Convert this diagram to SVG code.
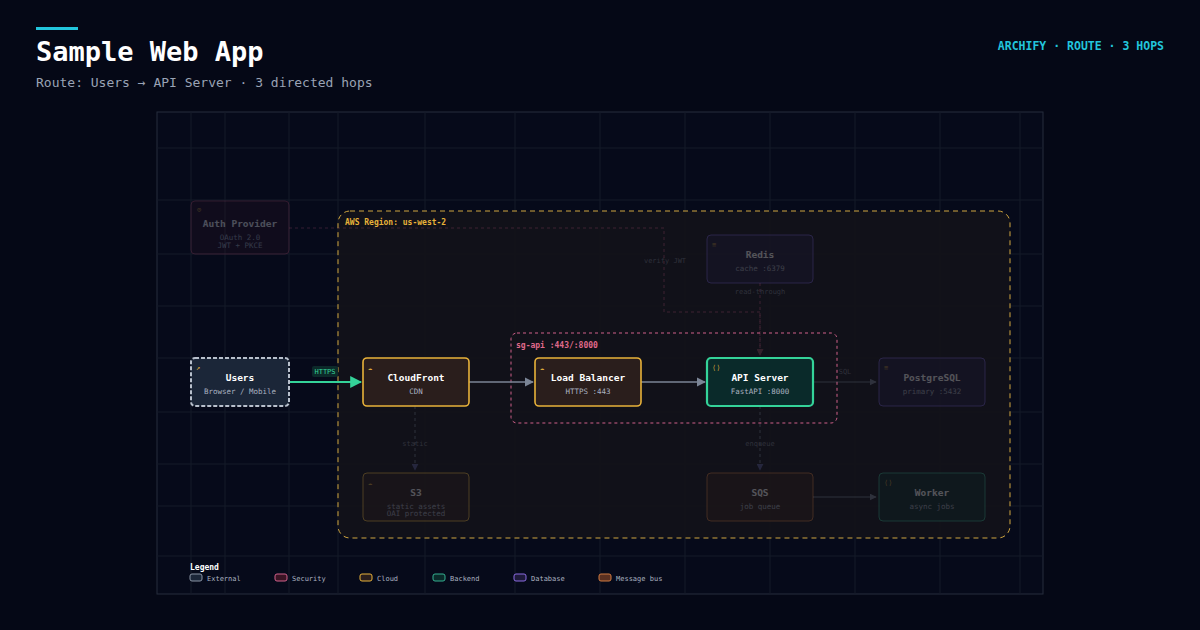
<svg xmlns="http://www.w3.org/2000/svg" width="1200" height="630" viewBox="0 0 1200 630">
<style>
text{font-family:"DejaVu Sans Mono","Liberation Mono",monospace}
.t{font-size:9.5px;font-weight:bold;fill:#fff;text-anchor:middle}
.s{font-size:7.5px;fill:#aab2c0;text-anchor:middle}
.ic{font-size:7px;fill:#d9a83a}
.lbl{font-size:7px;fill:#7a8090;text-anchor:middle}
.faded{opacity:0.28}
.lg{font-size:7px;fill:#aab2c0}
.grid line{stroke:#141a28;stroke-width:1}
</style>
<defs>
<marker id="ag" viewBox="0 0 10 10" refX="9" refY="5" markerWidth="6" markerHeight="6" orient="auto"><path d="M0,0L10,5L0,10z" fill="#34d399"/></marker>
<marker id="ay" viewBox="0 0 10 10" refX="9" refY="5" markerWidth="7" markerHeight="7" orient="auto"><path d="M0,0L10,5L0,10z" fill="#7b8596"/></marker>
<marker id="ab" viewBox="0 0 10 10" refX="9" refY="5" markerWidth="7" markerHeight="7" orient="auto"><path d="M0,0L10,5L0,10z" fill="#5a5f9a"/></marker>
<marker id="ar" viewBox="0 0 10 10" refX="9" refY="5" markerWidth="7" markerHeight="7" orient="auto"><path d="M0,0L10,5L0,10z" fill="#8a4a5a"/></marker>
</defs>
<rect width="1200" height="630" fill="#050816"/>
<rect x="36" y="27" width="42" height="3" fill="#22c5dc"/>
<text x="36" y="61" font-size="27" font-weight="bold" fill="#fff">Sample Web App</text>
<text x="36" y="87" font-size="13" fill="#9aa3b5">Route: Users → API Server · 3 directed hops</text>
<text x="1164" y="50" font-size="11.5" font-weight="bold" fill="#22c5dc" text-anchor="end">ARCHIFY · ROUTE · 3 HOPS</text>
<rect x="157" y="112" width="886" height="482" fill="#060a1a" stroke="#262c3c"/>
<g class="grid">
<line x1="191" y1="112" x2="191" y2="594"/><line x1="225" y1="112" x2="225" y2="594"/><line x1="289" y1="112" x2="289" y2="594"/><line x1="338" y1="112" x2="338" y2="594"/><line x1="425" y1="112" x2="425" y2="594"/><line x1="515" y1="112" x2="515" y2="594"/><line x1="600" y1="112" x2="600" y2="594"/><line x1="685" y1="112" x2="685" y2="594"/><line x1="770" y1="112" x2="770" y2="594"/><line x1="855" y1="112" x2="855" y2="594"/><line x1="940" y1="112" x2="940" y2="594"/><line x1="1020" y1="112" x2="1020" y2="594"/>
<line x1="157" y1="148" x2="1043" y2="148"/><line x1="157" y1="200" x2="1043" y2="200"/><line x1="157" y1="254" x2="1043" y2="254"/><line x1="157" y1="306" x2="1043" y2="306"/><line x1="157" y1="358" x2="1043" y2="358"/><line x1="157" y1="412" x2="1043" y2="412"/><line x1="157" y1="464" x2="1043" y2="464"/><line x1="157" y1="506" x2="1043" y2="506"/><line x1="157" y1="556" x2="1043" y2="556"/>
</g>
<g id="region">
<rect x="338" y="211" width="672" height="327" rx="12" fill="#121219" fill-opacity="0.92" stroke="#d0a640" stroke-dasharray="5 4"/>
<text x="345" y="225" font-size="8" font-weight="bold" fill="#e8b23a">AWS Region: us-west-2</text>
<rect x="511" y="333" width="326" height="90" rx="6" fill="none" stroke="#d0608a" stroke-dasharray="3 3"/>
<text x="516" y="348" font-size="8" font-weight="bold" fill="#e06a8c">sg-api :443/:8000</text>
</g>
<g id="connectors" fill="none">
<g class="faded">
<path d="M289,228H664V312H760V355" stroke="#b05070" stroke-dasharray="3 3" marker-end="url(#ar)"/>
<path d="M760,283V355" stroke="#b05070" stroke-dasharray="3 3" marker-end="url(#ar)"/>
<path d="M813,382H876" stroke="#7b8596" marker-end="url(#ay)"/>
<path d="M415,406V470" stroke="#7b8596" stroke-dasharray="3 3" marker-end="url(#ab)"/>
<path d="M760,406V470" stroke="#7b8596" stroke-dasharray="3 3" marker-end="url(#ab)"/>
<path d="M813,497H876" stroke="#7b8596" marker-end="url(#ay)"/>
</g>
<path d="M289,382H361" stroke="#34d399" stroke-width="2" marker-end="url(#ag)"/>
<path d="M469,382H533" stroke="#7b8596" stroke-width="1.3" marker-end="url(#ay)"/>
<path d="M641,382H705" stroke="#7b8596" stroke-width="1.3" marker-end="url(#ay)"/>
<rect x="312" y="366" width="26" height="11" rx="2" fill="#0c2a2a"/>
<text x="325" y="374" font-size="7" fill="#34d399" text-anchor="middle">HTTPS</text>
<g class="faded">
<text x="665" y="263" class="lbl" fill="#b06080">verify JWT</text>
<text x="760" y="294" class="lbl">read-through</text>
<text x="845" y="374" class="lbl">SQL</text>
<text x="415" y="446" class="lbl">static</text>
<text x="760" y="446" class="lbl">enqueue</text>
</g>
</g>
<g id="auth" class="faded"><rect x="191" y="201" width="98" height="53" rx="4" fill="#2a1422" stroke="#a04060"/><text x="197" y="212" class="ic" fill="#c06080">⊙</text><text x="240" y="227" class="t">Auth Provider</text><text x="240" y="240" class="s">OAuth 2.0</text><text x="240" y="248" class="s" font-size="6">JWT + PKCE</text></g>
<g id="users"><rect x="191" y="358" width="98" height="48" rx="4" fill="#1b2638" stroke="#b8c0cc" stroke-width="2" stroke-dasharray="4 2"/><text x="196" y="370" class="ic" fill="#8a94a4">↗</text><text x="240" y="381" class="t">Users</text><text x="240" y="394" class="s">Browser / Mobile</text></g>
<g id="cloudfront"><rect x="363" y="358" width="106" height="48" rx="4" fill="#2a1e1c" stroke="#e8b23a" stroke-width="1.6"/><text x="368" y="370" class="ic">☁</text><text x="416" y="381" class="t">CloudFront</text><text x="416" y="394" class="s">CDN</text></g>
<g id="lb"><rect x="535" y="358" width="106" height="48" rx="4" fill="#2a1e1c" stroke="#e8b23a" stroke-width="1.6"/><text x="540" y="370" class="ic">☁</text><text x="588" y="381" class="t">Load Balancer</text><text x="588" y="394" class="s">HTTPS :443</text></g>
<g id="api"><rect x="707" y="358" width="106" height="48" rx="4" fill="#0a2a2a" stroke="#34d399" stroke-width="2.2"/><text x="712" y="370" class="ic" fill="#34d399">⟨⟩</text><text x="760" y="381" class="t">API Server</text><text x="760" y="394" class="s">FastAPI :8000</text></g>
<g id="postgres" class="faded"><rect x="879" y="358" width="106" height="48" rx="4" fill="#1e1a3a" stroke="#6a58c0"/><text x="884" y="370" class="ic" fill="#8a7ad0">≡</text><text x="932" y="381" class="t">PostgreSQL</text><text x="932" y="394" class="s">primary :5432</text></g>
<g id="redis" class="faded"><rect x="707" y="235" width="106" height="48" rx="4" fill="#1e1a3a" stroke="#6a58c0"/><text x="712" y="247" class="ic" fill="#8a7ad0">≡</text><text x="760" y="258" class="t">Redis</text><text x="760" y="271" class="s">cache :6379</text></g>
<g id="s3" class="faded"><rect x="363" y="473" width="106" height="48" rx="4" fill="#2a1e1c" stroke="#e8b23a"/><text x="368" y="485" class="ic">☁</text><text x="416" y="496" class="t">S3</text><text x="416" y="509" class="s">static assets</text><text x="416" y="516" class="s" font-size="6">OAI protected</text></g>
<g id="sqs" class="faded"><rect x="707" y="473" width="106" height="48" rx="4" fill="#2e1e18" stroke="#c0703a"/><text x="760" y="496" class="t">SQS</text><text x="760" y="509" class="s">job queue</text></g>
<g id="worker" class="faded"><rect x="879" y="473" width="106" height="48" rx="4" fill="#0a2a2a" stroke="#34a080"/><text x="884" y="485" class="ic" fill="#34d399">⟨⟩</text><text x="932" y="496" class="t">Worker</text><text x="932" y="509" class="s">async jobs</text></g>
<g id="legend">
<text x="190" y="570" font-size="8" font-weight="bold" fill="#fff">Legend</text>
<rect x="190" y="574" width="12" height="7" rx="2" fill="#1b2638" stroke="#8a94a4"/><text x="207" y="581" class="lg">External</text>
<rect x="275" y="574" width="12" height="7" rx="2" fill="#3a1424" stroke="#d0608a"/><text x="292" y="581" class="lg">Security</text>
<rect x="360" y="574" width="12" height="7" rx="2" fill="#2a1e1c" stroke="#e8b23a"/><text x="377" y="581" class="lg">Cloud</text>
<rect x="433" y="574" width="12" height="7" rx="2" fill="#0a2a2a" stroke="#34b090"/><text x="450" y="581" class="lg">Backend</text>
<rect x="514" y="574" width="12" height="7" rx="2" fill="#1e1a3a" stroke="#8a6ae0"/><text x="531" y="581" class="lg">Database</text>
<rect x="599" y="574" width="12" height="7" rx="2" fill="#5a3020" stroke="#d07a40"/><text x="616" y="581" class="lg">Message bus</text>
</g>
</svg>
